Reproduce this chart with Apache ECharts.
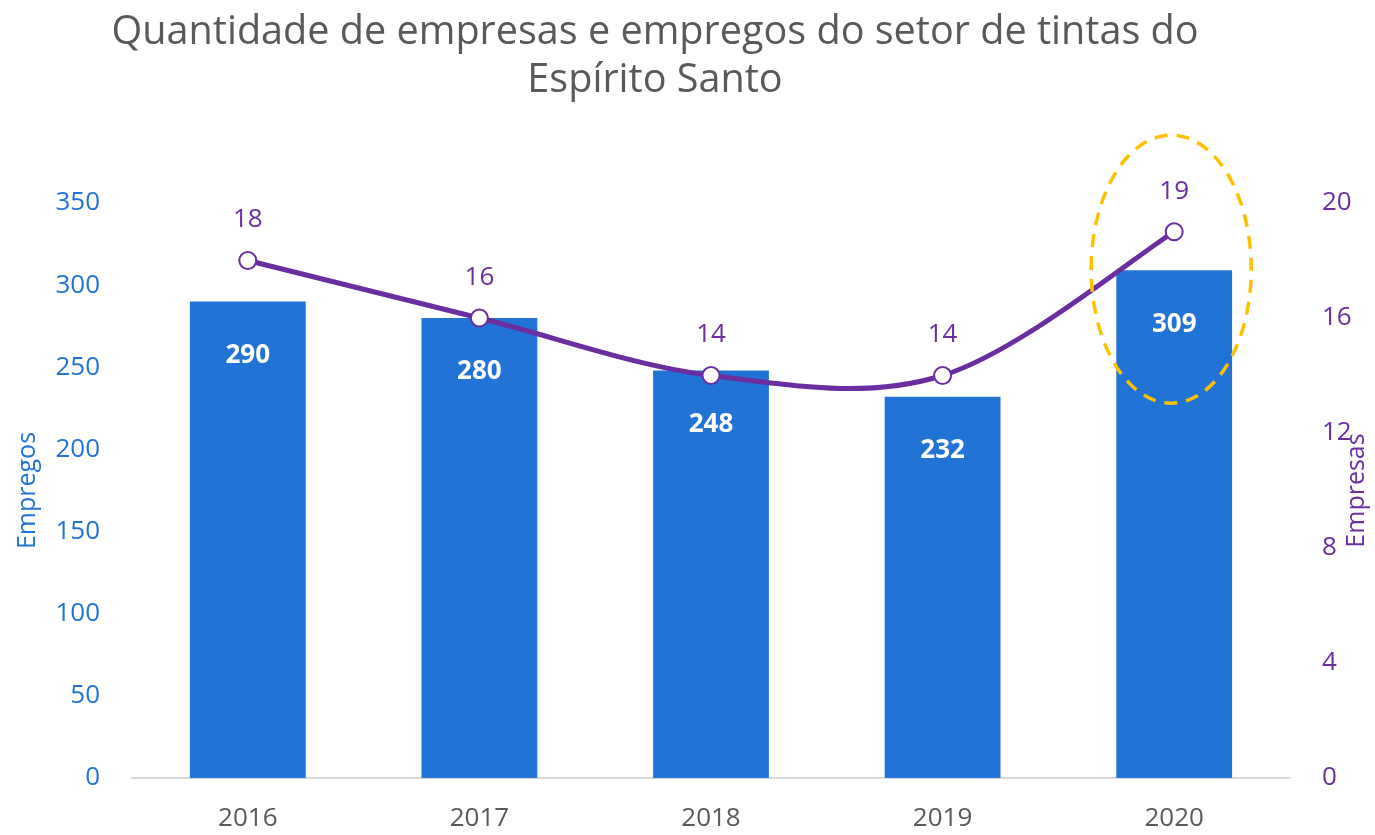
<!DOCTYPE html>
<html lang="pt-BR">
<head>
    <meta charset="UTF-8">
    <script src="https://cdn.jsdelivr.net/npm/echarts@6/dist/echarts.min.js"></script>
    <style>
        html, body { margin: 0; padding: 0; background: #fff; }
        #chart { width: 1375px; height: 835px; }
    </style>
</head>
<body>
    <div id="chart"></div>
    <script>
        // dados
        const anos = ['2016', '2017', '2018', '2019', '2020'];
        const empregos = [290, 280, 248, 232, 309];
        const empresas = [18, 16, 14, 14, 19];
        const empregosTicks = { min: 0, max: 350, interval: 50 };
        const empresasTicks = { min: 0, max: 20, interval: 4 };

        const azul = '#2273d6';
        const roxo = '#6a2ea0';
        const cinza = '#595959';
        const fonte = "'Open Sans', 'Noto Sans', sans-serif";

        const chart = echarts.init(document.getElementById('chart'));

        // curva suavizada estilo Excel (Catmull-Rom) entre pontos vizinhos
        function renderCurva(params, api) {
            const i = params.dataIndex;
            if (i >= empresas.length - 1) return null;
            const p = j => {
                const k = Math.max(0, Math.min(empresas.length - 1, j));
                return api.coord([k, empresas[k]]);
            };
            const p0 = p(i - 1), p1 = p(i), p2 = p(i + 1), p3 = p(i + 2);
            return {
                type: 'bezierCurve',
                shape: {
                    x1: p1[0], y1: p1[1],
                    x2: p2[0], y2: p2[1],
                    cpx1: p1[0] + (p2[0] - p0[0]) / 6,
                    cpy1: p1[1] + (p2[1] - p0[1]) / 6,
                    cpx2: p2[0] - (p3[0] - p1[0]) / 6,
                    cpy2: p2[1] - (p3[1] - p1[1]) / 6
                },
                style: { fill: null, stroke: roxo, lineWidth: 5, lineCap: 'round' }
            };
        }

        const option = {
            animation: false,
            textStyle: { fontFamily: fonte },
            title: {
                text: 'Quantidade de empresas e empregos do setor de tintas do\nEspírito Santo',
                left: 650,
                top: 4,
                textAlign: 'center',
                textStyle: {
                    fontFamily: fonte,
                    fontWeight: 'normal',
                    fontSize: 39.6,
                    lineHeight: 48,
                    color: cinza,
                    align: 'center'
                }
            },
            grid: { left: 132, right: 85, top: 203, bottom: 57, outerBoundsMode: 'none', containLabel: false },
            xAxis: {
                type: 'category',
                data: anos,
                axisLine: { lineStyle: { color: '#d9d9d9', width: 2 } },
                axisTick: { length: 9, lineStyle: { color: '#d9d9d9', width: 2 } },
                axisLabel: { color: cinza, fontSize: 26, margin: 28, fontFamily: fonte }
            },
            yAxis: [
                {
                    type: 'value',
                    min: empregosTicks.min,
                    max: empregosTicks.max,
                    interval: empregosTicks.interval,
                    name: 'Empregos',
                    nameLocation: 'middle',
                    nameRotate: 90,
                    nameGap: 92,
                    nameMoveOverlap: false,
                    nameTextStyle: { color: azul, fontSize: 25, fontFamily: fonte },
                    axisLine: { show: false },
                    axisTick: { show: false },
                    splitLine: { show: false },
                    axisLabel: { color: azul, fontSize: 26, margin: 32, fontFamily: fonte }
                },
                {
                    type: 'value',
                    min: empresasTicks.min,
                    max: empresasTicks.max,
                    interval: empresasTicks.interval,
                    name: 'Empresas',
                    nameLocation: 'middle',
                    nameRotate: 90,
                    nameGap: 54,
                    nameMoveOverlap: false,
                    nameTextStyle: { color: roxo, fontSize: 25, fontFamily: fonte },
                    axisLine: { show: false },
                    axisTick: { show: false },
                    splitLine: { show: false },
                    axisLabel: { color: roxo, fontSize: 26, margin: 32, fontFamily: fonte }
                }
            ],
            series: [
                {
                    name: 'Empregos',
                    type: 'bar',
                    data: empregos,
                    barWidth: '50%',
                    yAxisIndex: 0,
                    itemStyle: { color: azul },
                    label: {
                        show: true,
                        position: 'insideTop',
                        distance: 41,
                        color: '#fff',
                        fontWeight: 'bold',
                        fontSize: 26,
                        fontFamily: fonte
                    }
                },
                {
                    name: 'Empresas curva',
                    type: 'custom',
                    yAxisIndex: 1,
                    data: empresas,
                    renderItem: renderCurva,
                    silent: true,
                    z: 4
                },
                {
                    name: 'Empresas',
                    type: 'line',
                    data: empresas,
                    yAxisIndex: 1,
                    symbol: 'circle',
                    symbolSize: 17,
                    lineStyle: { width: 0, opacity: 0 },
                    itemStyle: { color: '#fff', borderColor: roxo, borderWidth: 2 },
                    label: {
                        show: true,
                        position: 'top',
                        distance: 18,
                        color: roxo,
                        fontSize: 26,
                        fontFamily: fonte
                    },
                    z: 5
                }
            ]
        };

        chart.setOption(option);

        // elipse tracejada de destaque em torno de 2020
        const ultimo = anos.length - 1;
        const centro = chart.convertToPixel({ xAxisIndex: 0, yAxisIndex: 1 }, [anos[ultimo], 17.7]);
        chart.setOption({
            graphic: [{
                type: 'ellipse',
                shape: { cx: centro[0] - 3, cy: centro[1], rx: 80, ry: 134 },
                style: { fill: 'none', stroke: '#ffc000', lineWidth: 3.5, lineDash: [13, 9] },
                z: 10
            }]
        });
    </script>
</body>
</html>
